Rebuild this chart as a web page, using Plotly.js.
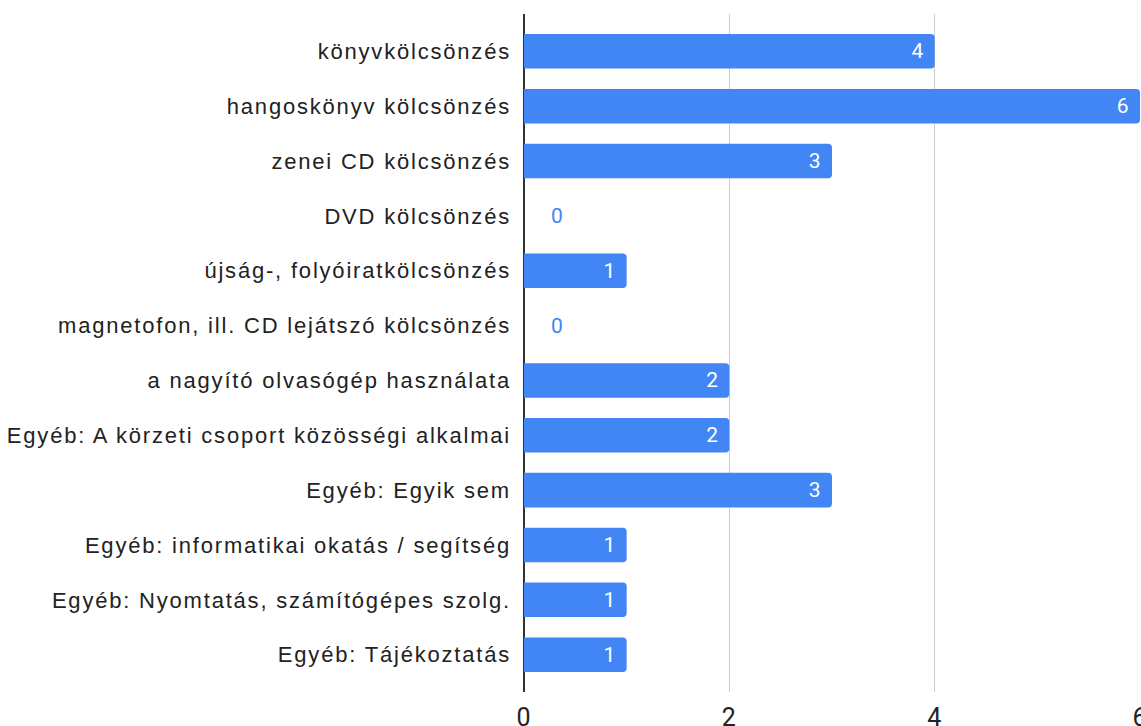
<!DOCTYPE html>
<html>
<head>
<meta charset="utf-8">
<script src="https://cdn.plot.ly/plotly-3.0.1.min.js"></script>
<style>
html,body{margin:0;padding:0;background:#fff;}
#chart{width:1141px;height:726px;}
#chart .ytick text{letter-spacing:1.8px;}
#chart .xtick text{letter-spacing:1px;}
</style>
</head>
<body>
<div id="chart"></div>
<script>
const categories = [
  "könyvkölcsönzés",
  "hangoskönyv kölcsönzés",
  "zenei CD kölcsönzés",
  "DVD kölcsönzés",
  "újság-, folyóiratkölcsönzés",
  "magnetofon, ill. CD lejátszó kölcsönzés",
  "a nagyító olvasógép használata",
  "Egyéb: A körzeti csoport közösségi alkalmai",
  "Egyéb: Egyik sem",
  "Egyéb: informatikai okatás / segítség",
  "Egyéb: Nyomtatás, számítógépes szolg.",
  "Egyéb: Tájékoztatás"
];
const values = [4, 6, 3, 0, 1, 0, 2, 2, 3, 1, 1, 1];
const xTicks = [0, 2, 4, 6];

const blue = "#4285F4";

const trace = {
  type: "bar",
  orientation: "h",
  x: values,
  y: categories,
  marker: {color: blue, cornerradius: 4},
  text: values.map(v => v > 0 ? String(v) + "\u00a0\u200a" : ""),
  textposition: "inside",
  insidetextanchor: "end",
  textfont: {family: "Roboto, sans-serif", size: 21, color: "#ffffff"},
  hoverinfo: "none",
  cliponaxis: false
};

const annotations = [];
values.forEach((v, i) => {
  if (v === 0) {
    annotations.push({
      x: v, y: categories[i], xref: "x", yref: "y",
      text: String(v), showarrow: false, xanchor: "center",
      xshift: 33,
      font: {family: "Roboto, sans-serif", size: 21, color: blue}
    });
  }
});

const layout = {
  width: 1141, height: 726,
  margin: {l: 524, r: 1, t: 14, b: 34, pad: 0},
  paper_bgcolor: "#ffffff",
  plot_bgcolor: "#ffffff",
  bargap: 0.37,
  showlegend: false,
  xaxis: {
    range: [0, 6],
    tickvals: xTicks,
    ticktext: xTicks.map(String),
    showgrid: true,
    gridcolor: "#cccccc",
    gridwidth: 1,
    zeroline: true,
    zerolinecolor: "#333333",
    zerolinewidth: 2,
    showline: false,
    ticks: "",
    ticklabeloverflow: "allow",
    ticklabelstandoff: 8,
    tickfont: {family: "Roboto, sans-serif", size: 25, color: "#222222"},
    fixedrange: true
  },
  yaxis: {
    type: "category",
    range: [11.68, -0.68],
    showgrid: false,
    zeroline: false,
    showline: false,
    ticks: "",
    ticklabelstandoff: 12,
    tickfont: {family: "Liberation Sans, Arial, sans-serif", size: 22, color: "#222222"},
    fixedrange: true
  },
  annotations: annotations
};

Plotly.newPlot("chart", [trace], layout, {displayModeBar: false, staticPlot: true});
</script>
</body>
</html>
